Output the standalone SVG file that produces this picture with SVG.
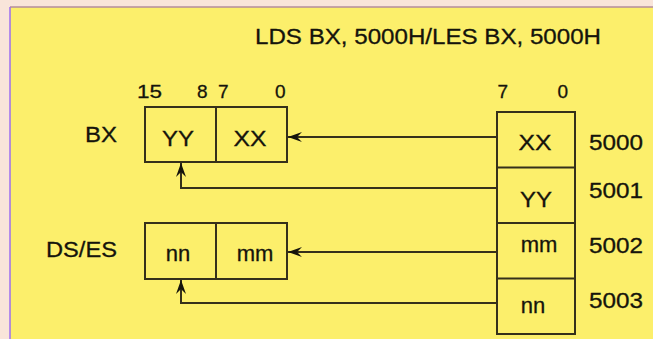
<svg xmlns="http://www.w3.org/2000/svg" width="653" height="339" viewBox="0 0 653 339">
<defs>
<style>
text{font-family:"Liberation Sans",Arial,sans-serif;fill:#15140c;stroke:#15140c;stroke-width:0.3px;}
.t{font-size:22px;}
.b{font-size:19px;}
.m{text-anchor:middle;}
.box{fill:none;stroke:#35301a;stroke-width:2;}
.c{fill:none;stroke:#35301a;stroke-width:2;}
</style>
<marker id="ah" markerUnits="userSpaceOnUse" viewBox="-15 -6 16 12" markerWidth="16" markerHeight="12" refX="0" refY="0" orient="auto">
<path d="M0,0 L-14,-5 L-9,0 L-14,5 Z" fill="#15140c"/>
</marker>
</defs>
<rect x="0" y="0" width="653" height="339" fill="#f9e5da"/>
<rect x="10" y="7" width="643" height="332" fill="#fcef6b"/>
<line x1="10" y1="7" x2="653" y2="7" stroke="#b48c9c" stroke-width="1.5"/>
<line x1="10" y1="7" x2="10" y2="339" stroke="#9d6ef0" stroke-width="1.5"/>

<text class="t" x="255" y="44" textLength="346" lengthAdjust="spacingAndGlyphs">LDS BX, 5000H/LES BX, 5000H</text>

<g id="bx">
<text class="t" x="85" y="142" textLength="32" lengthAdjust="spacingAndGlyphs">BX</text>
<text class="b" x="137" y="98" textLength="25" lengthAdjust="spacingAndGlyphs">15</text>
<text class="b" x="197" y="98">8</text>
<text class="b" x="218" y="98">7</text>
<text class="b" x="275" y="98">0</text>
<rect class="box" x="145" y="107" width="142" height="55"/>
<line class="box" x1="216" y1="107" x2="216" y2="162"/>
<text class="t m" x="178" y="146" textLength="32" lengthAdjust="spacingAndGlyphs">YY</text>
<text class="t m" x="250" y="146" textLength="33" lengthAdjust="spacingAndGlyphs">XX</text>
</g>

<g id="dses">
<text class="t" x="46" y="257" textLength="71" lengthAdjust="spacingAndGlyphs">DS/ES</text>
<rect class="box" x="145" y="223" width="142" height="56"/>
<line class="box" x1="216" y1="223" x2="216" y2="279"/>
<text class="t m" x="178" y="261">nn</text>
<text class="t m" x="255" y="261">mm</text>
</g>

<g id="memory">
<text class="b" x="497.5" y="98">7</text>
<text class="b" x="557.5" y="98">0</text>
<rect class="box" x="497" y="112" width="78" height="222"/>
<line class="box" x1="497" y1="167.5" x2="575" y2="167.5"/>
<line class="box" x1="497" y1="223" x2="575" y2="223"/>
<line class="box" x1="497" y1="278.5" x2="575" y2="278.5"/>
<text class="t m" x="535" y="150" textLength="33" lengthAdjust="spacingAndGlyphs">XX</text>
<text class="t m" x="536" y="207" textLength="32" lengthAdjust="spacingAndGlyphs">YY</text>
<text class="t m" x="539" y="252">mm</text>
<text class="t m" x="533" y="313">nn</text>
<text class="t" x="589" y="150" textLength="54" lengthAdjust="spacingAndGlyphs">5000</text>
<text class="t" x="589" y="198" textLength="54" lengthAdjust="spacingAndGlyphs">5001</text>
<text class="t" x="589" y="253" textLength="54" lengthAdjust="spacingAndGlyphs">5002</text>
<text class="t" x="589" y="308" textLength="54" lengthAdjust="spacingAndGlyphs">5003</text>
</g>

<g id="connectors">
<path class="c" d="M497,137 H288" marker-end="url(#ah)"/>
<path class="c" d="M497,188 H181 V163" marker-end="url(#ah)"/>
<path class="c" d="M497,252 H288" marker-end="url(#ah)"/>
<path class="c" d="M497,303 H181 V280" marker-end="url(#ah)"/>
</g>
</svg>
